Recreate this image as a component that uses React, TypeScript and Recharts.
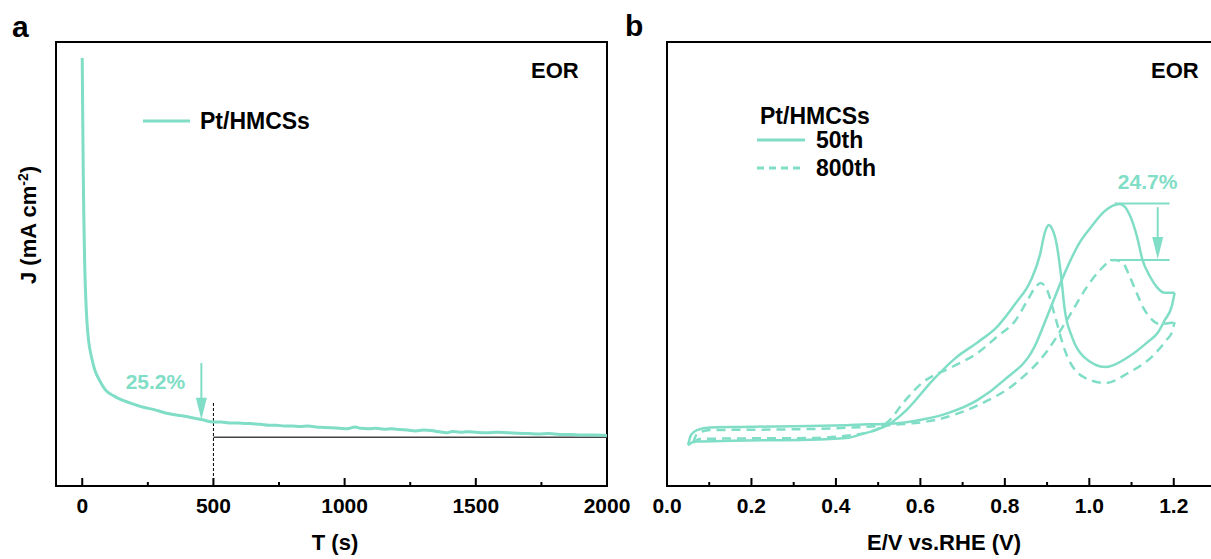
import React from 'react';
import { LineChart, Line, XAxis, YAxis, ReferenceArea, ReferenceLine, ReferenceDot, Legend } from 'recharts';

const TEAL = '#80DDC6';
const FONT = '"Liberation Sans", Arial, Helvetica, sans-serif';

// ---------- Panel a: chronoamperometry ----------
const chronoTime = [
  0, 2, 4, 6, 9, 13, 18, 25, 35, 48, 65, 89, 120, 150, 183, 230, 280, 321, 380, 458,
  500, 530, 560, 590, 620, 650, 680, 710, 740, 770, 800, 830, 860, 890, 920, 950, 980,
  1010, 1040, 1060, 1090, 1120, 1150, 1180, 1210, 1240, 1270, 1300, 1330, 1360, 1390,
  1410, 1440, 1470, 1500, 1540, 1580, 1620, 1660, 1700, 1740, 1780, 1820, 1860, 1900,
  1950, 2000,
];
const chronoJ = [
  9.64, 8.24, 7.0, 6.1, 5.09, 4.3, 3.69, 3.24, 2.91, 2.61, 2.39, 2.16, 2.03, 1.94, 1.87,
  1.78, 1.71, 1.64, 1.58, 1.49,
  1.44, 1.44, 1.42, 1.42, 1.41, 1.4, 1.39, 1.37, 1.37, 1.35, 1.35, 1.34, 1.35, 1.33, 1.32,
  1.31, 1.3, 1.29, 1.33, 1.3, 1.29, 1.3, 1.28, 1.29, 1.27, 1.26, 1.24, 1.26, 1.25, 1.22,
  1.2, 1.23, 1.21, 1.22, 1.21, 1.2, 1.21, 1.2, 1.19, 1.18, 1.17, 1.18, 1.16, 1.16, 1.15,
  1.15, 1.14,
];
const chronoTicks = [0, 250, 500, 750, 1000, 1250, 1500, 1750, 2000];

// ---------- Panel b: CV, 50th and 800th cycles ----------
const cv50FwdE = [0.05, 0.057, 0.071, 0.102, 0.173, 0.246, 0.338, 0.424, 0.48, 0.527, 0.602, 0.665, 0.736, 0.799, 0.87, 0.906, 0.942, 0.975, 1.004, 1.035, 1.072, 1.096, 1.112, 1.126, 1.143, 1.16, 1.179, 1.202];
const cv50FwdJ = [0.92, 1.15, 1.26, 1.32, 1.33, 1.34, 1.35, 1.37, 1.39, 1.4, 1.49, 1.64, 1.94, 2.39, 3.13, 3.96, 4.8, 5.45, 5.83, 6.18, 6.35, 6.1, 5.65, 5.09, 4.73, 4.48, 4.35, 4.35];
const cv50BwdE = [0.05, 0.066, 0.156, 0.335, 0.424, 0.469, 0.495, 0.527, 0.567, 0.63, 0.683, 0.736, 0.781, 0.826, 0.862, 0.883, 0.895, 0.904, 0.911, 0.923, 0.933, 0.942, 0.959, 0.987, 1.039, 1.093, 1.138, 1.162, 1.179, 1.195, 1.202];
const cv50BwdJ = [0.92, 1.0, 1.02, 1.04, 1.08, 1.19, 1.26, 1.4, 1.71, 2.39, 2.88, 3.24, 3.58, 4.12, 4.64, 5.2, 5.72, 5.88, 5.81, 5.43, 4.75, 3.96, 3.36, 2.91, 2.68, 2.91, 3.24, 3.45, 3.74, 4.04, 4.35];
const cv800FwdE = [0.062, 0.071, 0.102, 0.246, 0.424, 0.527, 0.646, 0.736, 0.826, 0.897, 0.954, 0.994, 1.025, 1.058, 1.077, 1.096, 1.112, 1.127, 1.145, 1.167, 1.202];
const cv800FwdJ = [0.97, 1.17, 1.26, 1.27, 1.31, 1.37, 1.51, 1.82, 2.32, 3.0, 3.85, 4.48, 4.86, 5.09, 5.05, 4.71, 4.35, 4.03, 3.78, 3.65, 3.69];
const cv800BwdE = [0.062, 0.078, 0.156, 0.334, 0.424, 0.492, 0.528, 0.559, 0.604, 0.675, 0.736, 0.781, 0.826, 0.854, 0.871, 0.885, 0.902, 0.918, 0.942, 0.987, 1.039, 1.093, 1.148, 1.183, 1.195, 1.202];
const cv800BwdJ = [0.97, 1.06, 1.07, 1.08, 1.13, 1.26, 1.49, 1.87, 2.32, 2.68, 3.0, 3.36, 3.74, 4.19, 4.46, 4.57, 4.37, 3.85, 3.06, 2.45, 2.32, 2.55, 2.91, 3.29, 3.45, 3.69];
const cvTicks = [0, 0.1, 0.2, 0.3, 0.4, 0.5, 0.6, 0.7, 0.8, 0.9, 1.0, 1.1, 1.2];

const zipT = (xs: number[], ys: number[]) => xs.map((t, i) => ({ t, j: ys[i] }));
const zipE = (xs: number[], ys: number[]) => xs.map((e, i) => ({ e, j: ys[i] }));

const chronoData = zipT(chronoTime, chronoJ);
const cv50Fwd = zipE(cv50FwdE, cv50FwdJ);
const cv50Bwd = zipE(cv50BwdE, cv50BwdJ);
const cv800Fwd = zipE(cv800FwdE, cv800FwdJ);
const cv800Bwd = zipE(cv800BwdE, cv800BwdJ);

const makeTick = (isMajor: (v: number) => boolean, fmt: (v: number) => string) => (props: any) => {
  const { x, y, payload } = props;
  const major = isMajor(payload.value);
  return (
    <g>
      <line x1={x} x2={x} y1={y} y2={y - (major ? 8 : 4)} stroke="#000" strokeWidth={2} />
      {major && (
        <text x={x} y={y + 27} textAnchor="middle" fontFamily={FONT} fontWeight="bold" fontSize={21} fill="#000">
          {fmt(payload.value)}
        </text>
      )}
    </g>
  );
};

const tickA = makeTick((v) => v % 500 === 0, (v) => String(v));
const tickB = makeTick((v) => Math.round(v * 10) % 2 === 0, (v) => v.toFixed(1));

const arrowHead = (p: any) => (
  <path d={`M${p.cx},${p.cy} L${p.cx - 5.5},${p.cy - 22} L${p.cx + 5.5},${p.cy - 22} Z`} fill={TEAL} />
);
const textShape = (label: string) => (p: any) => (
  <text x={p.cx} y={p.cy} textAnchor="middle" dominantBaseline="central" fontFamily={FONT} fontWeight="bold" fontSize={21} fill={TEAL}>
    {label}
  </text>
);

const LegendA = (props: any) => {
  const items = (props.payload || []).filter((it: any) => it.type !== 'none');
  return (
    <div style={{ fontFamily: FONT, fontWeight: 'bold', fontSize: 23, color: '#000' }}>
      {items.map((it: any, i: number) => (
        <div key={i} style={{ display: 'flex', alignItems: 'center', height: 26 }}>
          <svg width={47} height={6} style={{ display: 'block' }}>
            <line x1={0} x2={47} y1={3} y2={3} stroke={it.color} strokeWidth={3} />
          </svg>
          <span style={{ marginLeft: 10, lineHeight: '26px' }}>{it.value}</span>
        </div>
      ))}
    </div>
  );
};

const LegendB = (props: any) => {
  const items = (props.payload || []).filter((it: any) => it.type !== 'none');
  return (
    <div style={{ position: 'relative', width: 150, height: 80, fontFamily: FONT, fontWeight: 'bold', fontSize: 23, color: '#000' }}>
      <div style={{ position: 'absolute', left: 3, top: 0, height: 22, lineHeight: '22px', whiteSpace: 'nowrap' }}>Pt/HMCSs</div>
      {items.map((it: any, i: number) => (
        <div key={i} style={{ position: 'absolute', left: 0, top: 24 + i * 28, display: 'flex', alignItems: 'center', height: 22 }}>
          <svg width={48} height={6} style={{ display: 'block' }}>
            <line x1={0} x2={48} y1={3} y2={3} stroke={it.color} strokeWidth={3} strokeDasharray={it.payload && it.payload.strokeDasharray ? '7 5' : undefined} />
          </svg>
          <span style={{ marginLeft: 11, lineHeight: '22px', whiteSpace: 'nowrap' }}>{it.value}</span>
        </div>
      ))}
    </div>
  );
};

export default function App() {
  return (
    <div style={{ position: 'fixed', left: 0, top: 0, width: 1211, height: 559, overflow: 'hidden', background: '#fff' }}>
      {/* Panel a */}
      <div style={{ position: 'absolute', left: 0, top: 0 }}>
        <LineChart width={640} height={559} data={chronoData} margin={{ top: 42, right: 33, bottom: 43, left: 56 }}>
          <XAxis dataKey="t" type="number" domain={[-100, 2000]} allowDataOverflow ticks={chronoTicks} interval={0}
            tickSize={0} tickMargin={0} axisLine={false} tickLine={false} tick={tickA} height={30} />
          <YAxis type="number" domain={[0, 10]} allowDataOverflow hide width={0} />
          <ReferenceArea x1={-100} x2={2000} y1={0} y2={10} fill="none" stroke="#000" strokeWidth={2} ifOverflow="visible" />
          <ReferenceLine segment={[{ x: 500, y: 1.1 }, { x: 2000, y: 1.1 }]} stroke="#444" strokeWidth={1.5} />
          <ReferenceLine segment={[{ x: 500, y: 0 }, { x: 500, y: 1.89 }]} stroke="#000" strokeWidth={1} strokeDasharray="3 2" />
          <Line dataKey="j" name="Pt/HMCSs" type="monotone" stroke={TEAL} strokeWidth={3} dot={false} isAnimationActive={false} />
          <ReferenceLine segment={[{ x: 454, y: 2.77 }, { x: 454, y: 1.8 }]} stroke={TEAL} strokeWidth={2} />
          <ReferenceDot x={454} y={1.49} r={0} shape={arrowHead} />
          <ReferenceDot x={279} y={2.36} r={0} shape={textShape('25.2%')} />
          <Legend layout="horizontal" verticalAlign="middle" align="center" content={LegendA}
            wrapperStyle={{ left: 143, top: 108, width: 'auto', height: 'auto' }} />
        </LineChart>
      </div>

      {/* Panel b */}
      <div style={{ position: 'absolute', left: 640, top: 0 }}>
        <LineChart width={600} height={559} margin={{ top: 42, right: 24, bottom: 43, left: 27 }}>
          <XAxis dataKey="e" type="number" domain={[0, 1.3]} allowDataOverflow ticks={cvTicks} interval={0}
            tickSize={0} tickMargin={0} axisLine={false} tickLine={false} tick={tickB} height={30} />
          <YAxis type="number" domain={[0, 10]} allowDataOverflow hide width={0} />
          <ReferenceArea x1={0} x2={1.3} y1={0} y2={10} fill="none" stroke="#000" strokeWidth={2} ifOverflow="visible" />
          <Line data={cv50Fwd} dataKey="j" name="50th" type="monotone" stroke={TEAL} strokeWidth={2.5} dot={false} isAnimationActive={false} />
          <Line data={cv50Bwd} dataKey="j" name="50th b" legendType="none" type="monotone" stroke={TEAL} strokeWidth={2.5} dot={false} isAnimationActive={false} />
          <Line data={cv800Fwd} dataKey="j" name="800th" type="monotone" stroke={TEAL} strokeWidth={2.5} strokeDasharray="9 6" dot={false} isAnimationActive={false} />
          <Line data={cv800Bwd} dataKey="j" name="800th b" legendType="none" type="monotone" stroke={TEAL} strokeWidth={2.5} strokeDasharray="9 6" dot={false} isAnimationActive={false} />
          <ReferenceLine segment={[{ x: 1.06, y: 6.36 }, { x: 1.19, y: 6.36 }]} stroke={TEAL} strokeWidth={2} />
          <ReferenceLine segment={[{ x: 1.049, y: 5.09 }, { x: 1.19, y: 5.09 }]} stroke={TEAL} strokeWidth={2} />
          <ReferenceLine segment={[{ x: 1.162, y: 6.28 }, { x: 1.162, y: 5.4 }]} stroke={TEAL} strokeWidth={2} />
          <ReferenceDot x={1.162} y={5.11} r={0} shape={arrowHead} />
          <ReferenceDot x={1.138} y={6.85} r={0} shape={textShape('24.7%')} />
          <Legend layout="horizontal" verticalAlign="middle" align="center" content={LegendB}
            wrapperStyle={{ left: 117, top: 105, width: 'auto', height: 'auto' }} />
        </LineChart>
      </div>

      {/* Titles & panel letters */}
      <svg width={1211} height={559} style={{ position: 'absolute', left: 0, top: 0, pointerEvents: 'none' }}>
        <g fontFamily={FONT} fontWeight="bold" fill="#000">
          <text x={12} y={37} fontSize={30}>a</text>
          <text x={625} y={36} fontSize={30}>b</text>
          <text x={531} y={78} fontSize={22}>EOR</text>
          <text x={1151} y={78} fontSize={22}>EOR</text>
          <text x={335} y={550} fontSize={22} textAnchor="middle">T (s)</text>
          <text x={944} y={550} fontSize={22} textAnchor="middle">E/V vs.RHE (V)</text>
          <text x={36} y={225} fontSize={22} textAnchor="middle" transform="rotate(-90 36 225)">
            J (mA cm<tspan fontSize={14} dy={-8}>-2</tspan><tspan dy={8}>)</tspan>
          </text>
        </g>
      </svg>
    </div>
  );
}
